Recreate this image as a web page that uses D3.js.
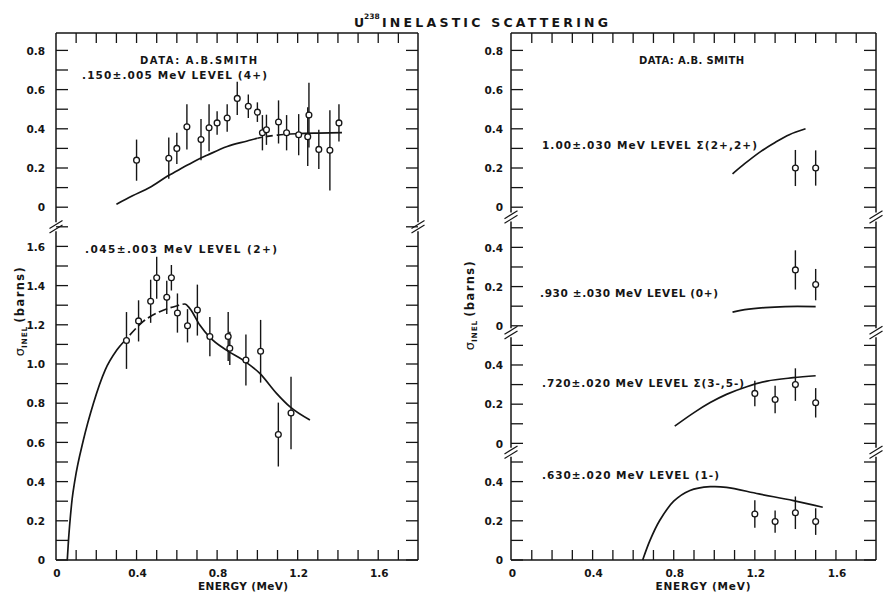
<!DOCTYPE html>
<html>
<head>
<meta charset="utf-8">
<script src="https://cdn.jsdelivr.net/npm/d3@7"></script>
<style>
  html, body { margin: 0; padding: 0; background: #fff; }
  svg { display: block; }
  text { font-family: "DejaVu Sans", "Liberation Sans", sans-serif; fill: #151515; font-weight: bold; }
</style>
</head>
<body>
<svg id="chart" width="883" height="593"></svg>
<script>
// ---------------- data ----------------
const energyTicks = [0, 0.4, 0.8, 1.2, 1.6];

// .150 MeV level (4+): measured points, errors, calculated curve
const e150 = [0.40, 0.56, 0.60, 0.65, 0.72, 0.76, 0.80, 0.85, 0.90, 0.955, 1.00, 1.025, 1.045, 1.105, 1.145, 1.205, 1.25, 1.256, 1.305, 1.36, 1.405];
const s150 = [0.24, 0.25, 0.30, 0.41, 0.345, 0.405, 0.43, 0.455, 0.555, 0.515, 0.485, 0.38, 0.395, 0.435, 0.38, 0.37, 0.36, 0.47, 0.295, 0.29, 0.43];
const d150 = [0.105, 0.105, 0.08, 0.115, 0.105, 0.12, 0.06, 0.07, 0.085, 0.06, 0.05, 0.09, 0.077, 0.11, 0.09, 0.105, 0.15, 0.165, 0.10, 0.205, 0.095];
const c150E = [0.30, 0.38, 0.465, 0.556, 0.63, 0.70, 0.75, 0.85, 0.95, 1.00, 1.10, 1.20, 1.30, 1.42];
const c150S = [0.015, 0.058, 0.10, 0.16, 0.202, 0.241, 0.265, 0.31, 0.338, 0.352, 0.368, 0.375, 0.378, 0.38];

// .045 MeV level (2+)
const e045 = [0.35, 0.41, 0.47, 0.50, 0.55, 0.573, 0.603, 0.653, 0.702, 0.764, 0.855, 0.863, 0.943, 1.016, 1.104, 1.167];
const s045 = [1.12, 1.22, 1.32, 1.44, 1.34, 1.44, 1.26, 1.195, 1.275, 1.14, 1.14, 1.08, 1.02, 1.065, 0.64, 0.75];
const d045 = [0.145, 0.105, 0.11, 0.107, 0.085, 0.065, 0.10, 0.085, 0.13, 0.10, 0.125, 0.085, 0.13, 0.16, 0.163, 0.185];
const c045E = [0.056, 0.062, 0.07, 0.08, 0.094, 0.136, 0.186, 0.244, 0.302, 0.352, 0.432, 0.515, 0.598, 0.64, 0.664, 0.714, 0.764, 0.846, 0.929, 1.012, 1.095, 1.161, 1.261];
const c045S = [0, 0.10, 0.204, 0.31, 0.408, 0.612, 0.80, 0.969, 1.071, 1.131, 1.216, 1.267, 1.296, 1.306, 1.284, 1.199, 1.136, 1.071, 1.02, 0.952, 0.85, 0.782, 0.714];

// 1.00 MeV level sum (2+,2+)
const e100 = [1.40, 1.50];
const s100 = [0.20, 0.20];
const d100 = [0.092, 0.09];
const c100E = [1.09, 1.15, 1.23, 1.30, 1.37, 1.45];
const c100S = [0.17, 0.222, 0.285, 0.33, 0.37, 0.40];

// .930 MeV level (0+)
const e930 = [1.40, 1.50];
const s930 = [0.285, 0.21];
const d930 = [0.10, 0.08];
const c930E = [1.09, 1.15, 1.25, 1.35, 1.50];
const c930S = [0.07, 0.082, 0.093, 0.098, 0.098];

// .720 MeV level sum (3-,5-)
const e720 = [1.20, 1.30, 1.40, 1.50];
const s720 = [0.255, 0.224, 0.30, 0.207];
const d720 = [0.065, 0.07, 0.083, 0.075];
const c720E = [0.805, 0.90, 0.98, 1.06, 1.16, 1.26, 1.39, 1.50];
const c720S = [0.088, 0.157, 0.208, 0.25, 0.289, 0.318, 0.335, 0.345];

// .630 MeV level (1-)
const e630 = [1.20, 1.30, 1.40, 1.50];
const s630 = [0.235, 0.196, 0.241, 0.196];
const d630 = [0.07, 0.057, 0.083, 0.068];
const c630E = [0.647, 0.683, 0.73, 0.80, 0.88, 0.98, 1.06, 1.22, 1.39, 1.535];
const c630S = [0, 0.10, 0.20, 0.30, 0.355, 0.374, 0.371, 0.337, 0.303, 0.269];

const levelLabels = {
  l150: ".150\u00b1.005 MeV LEVEL (4+)",
  l045: ".045\u00b1.003 MeV LEVEL (2+)",
  l100: "1.00\u00b1.030 MeV LEVEL \u03a3(2+,2+)",
  l930: ".930 \u00b1.030 MeV  LEVEL (0+)",
  l720: ".720\u00b1.020 MeV LEVEL \u03a3(3-,5-)",
  l630: ".630\u00b1.020 MeV LEVEL (1-)"
};
const dataCredit = ["DATA:  A.B.SMITH", "DATA: A.B. SMITH"];

// ---------------- layout ----------------
const svg = d3.select("#chart");
const INK = "#151515";
const TOP = 33, BOTTOM = 560, K = 196;   // px per barn on every segment

const zip = (E, S, D) => E.map((e, i) => ({ e, s: S[i], d: D ? D[i] : 0 }));

const panels = [
  {
    range: [56, 418.5], frame: [56, 418], tickLabelX: 45,
    creditX: 140, creditW: 117, credit: dataCredit[0],
    sections: [   // listed bottom to top
      { lo: 0, hi: 1.7, pts: zip(e045, s045, d045), curve: zip(c045E, c045S), kind: "mono",
        dash: [0.352, 0.64], dashArr: "9,3.5",
        label: levelLabels.l045, lx: 85, ly: 253, lw: 192 },
      { lo: -0.1, hi: 0.89, pts: zip(e150, s150, d150), curve: zip(c150E, c150S), kind: "mono",
        dash: [1.0, 1.16], dashArr: "7,4",
        label: levelLabels.l150, lx: 82, ly: 79, lw: 185 }
    ],
    energyLabelX: 243, energyLabelW: 90, sigmaCenter: [24, 311]
  },
  {
    range: [511.5, 876.5], frame: [511, 876], tickLabelX: 503,
    creditX: 639, creditW: 105, credit: dataCredit[1],
    sections: [
      { lo: 0, hi: 0.55, pts: zip(e630, s630, d630), curve: zip(c630E, c630S), kind: "smooth",
        label: levelLabels.l630, lx: 542, ly: 479, lw: 177 },
      { lo: -0.045, hi: 0.565, pts: zip(e720, s720, d720), curve: zip(c720E, c720S), kind: "smooth",
        label: levelLabels.l720, lx: 542, ly: 387, lw: 202 },
      { lo: -0.035, hi: 0.555, pts: zip(e930, s930, d930), curve: zip(c930E, c930S), kind: "smooth",
        label: levelLabels.l930, lx: 540, ly: 297, lw: 178 },
      { lo: -0.05, hi: 0.89, pts: zip(e100, s100, d100), curve: zip(c100E, c100S), kind: "smooth",
        label: levelLabels.l100, lx: 542, ly: 149, lw: 215 }
    ],
    energyLabelX: 703, energyLabelW: 95, sigmaCenter: [474, 305]
  }
];

// title
svg.append("text").attr("x", 354).attr("y", 26.5).attr("font-size", 12.5).text("U");
svg.append("text").attr("x", 364).attr("y", 19).attr("font-size", 7.5).text("238");
svg.append("text").attr("x", 382).attr("y", 26.5).attr("font-size", 12.5)
  .attr("textLength", 226).attr("lengthAdjust", "spacing").text("INELASTIC SCATTERING");

const fmt = v => (Math.abs(v) < 1e-9 ? "0" : d3.format(".1f")(v));

panels.forEach((p, pi) => {
  const g = svg.append("g");
  const x = d3.scaleLinear().domain([0, 1.8]).range(p.range);
  const [fl, fr] = p.frame;

  // stack the broken-axis segments bottom to top
  let base = BOTTOM;
  p.sections.forEach(sec => {
    const h = (sec.hi - sec.lo) * K;
    sec.y = d3.scaleLinear().domain([sec.lo, sec.hi]).range([base, base - h]);
    sec.bottom = base;
    base -= h;
  });
  const breaks = p.sections.slice(1).map(s => s.bottom);

  // frame: top / bottom
  [TOP, BOTTOM].forEach(yy => {
    g.append("line").attr("x1", fl).attr("x2", fr).attr("y1", yy).attr("y2", yy)
      .attr("stroke", INK).attr("stroke-width", 1.5);
  });

  // frame sides, interrupted at every break
  const stops = [TOP, ...breaks.slice().reverse(), BOTTOM];
  [fl, fr].forEach(xx => {
    for (let i = 0; i < stops.length - 1; i++) {
      const y1 = stops[i] + (i === 0 ? 0 : 4.5);
      const y2 = stops[i + 1] - (i === stops.length - 2 ? 0 : 4.5);
      g.append("line").attr("x1", xx).attr("x2", xx).attr("y1", y1).attr("y2", y2)
        .attr("stroke", INK).attr("stroke-width", 1.5);
    }
    breaks.forEach(by => {
      [-2.3, 2.3].forEach(dy => {
        g.append("line")
          .attr("x1", xx - 6.5).attr("y1", by + dy + 4)
          .attr("x2", xx + 6.5).attr("y2", by + dy - 4)
          .attr("stroke", INK).attr("stroke-width", 1.2);
      });
    });
  });

  // energy ticks on top and bottom edges
  d3.range(1, 18).map(i => i / 10).forEach(t => {
    g.append("line").attr("x1", x(t)).attr("x2", x(t)).attr("y1", TOP).attr("y2", TOP + 10)
      .attr("stroke", INK).attr("stroke-width", 1.3);
    g.append("line").attr("x1", x(t)).attr("x2", x(t)).attr("y1", BOTTOM).attr("y2", BOTTOM - 10)
      .attr("stroke", INK).attr("stroke-width", 1.3);
  });
  energyTicks.forEach(t => {
    g.append("text").attr("x", x(t) + 1).attr("y", 577).attr("text-anchor", "middle")
      .attr("font-size", 10.5).text(fmt(t));
  });
  g.append("text").attr("x", p.energyLabelX - p.energyLabelW / 2).attr("y", 590)
    .attr("font-size", 10.5).attr("textLength", p.energyLabelW).attr("lengthAdjust", "spacing")
    .text("ENERGY (MeV)");

  // ordinate label
  const sl = g.append("text")
    .attr("transform", `translate(${p.sigmaCenter[0]},${p.sigmaCenter[1]}) rotate(-90)`)
    .attr("text-anchor", "middle").attr("font-size", 11.5);
  sl.append("tspan").attr("font-weight", "normal").attr("font-size", 13).text("\u03c3");
  sl.append("tspan").attr("font-size", 7.5).attr("dy", 3).attr("letter-spacing", 0.8).text("INEL");
  sl.append("tspan").attr("dy", -3).attr("dx", 3).attr("letter-spacing", 1.4).text("(barns)");

  // per-segment ticks, labels, curves and data
  p.sections.forEach((sec, si) => {
    const y = sec.y;
    const vals = d3.range(0, Math.floor(sec.hi * 10 + 1e-6) + 1).map(i => i / 10);
    vals.forEach(v => {
      const yy = y(v);
      g.append("line").attr("x1", fl).attr("x2", fl + 12).attr("y1", yy).attr("y2", yy)
        .attr("stroke", INK).attr("stroke-width", 1.3);
      g.append("line").attr("x1", fr).attr("x2", fr - 12).attr("y1", yy).attr("y2", yy)
        .attr("stroke", INK).attr("stroke-width", 1.3);
      if (Math.round(v * 10) % 2 === 0) {
        g.append("text").attr("x", p.tickLabelX).attr("y", yy + 4.2).attr("text-anchor", "end")
          .attr("font-size", 10.5).text(fmt(v));
      }
    });

    // calculated curve, with a dashed stretch where noted
    const line = d3.line().x(d => x(d.e)).y(d => y(d.s))
      .curve(sec.kind === "mono" ? d3.curveMonotoneX : d3.curveCatmullRom.alpha(0.5));
    const cid = `clip-${pi}-${si}`;
    if (sec.dash) {
      const defs = g.append("defs");
      defs.append("clipPath").attr("id", cid + "a").append("rect")
        .attr("x", x(sec.dash[0])).attr("width", x(sec.dash[1]) - x(sec.dash[0]))
        .attr("y", 0).attr("height", 593);
      const out = defs.append("clipPath").attr("id", cid + "b");
      out.append("rect").attr("x", 0).attr("width", x(sec.dash[0])).attr("y", 0).attr("height", 593);
      out.append("rect").attr("x", x(sec.dash[1])).attr("width", 883 - x(sec.dash[1])).attr("y", 0).attr("height", 593);
      g.append("path").attr("d", line(sec.curve)).attr("fill", "none").attr("stroke", INK)
        .attr("stroke-width", 1.7).attr("clip-path", `url(#${cid}b)`);
      g.append("path").attr("d", line(sec.curve)).attr("fill", "none").attr("stroke", INK)
        .attr("stroke-width", 1.7).attr("stroke-dasharray", sec.dashArr).attr("clip-path", `url(#${cid}a)`);
    } else {
      g.append("path").attr("d", line(sec.curve)).attr("fill", "none").attr("stroke", INK)
        .attr("stroke-width", 1.7);
    }

    // error bars and open circles
    g.selectAll(null).data(sec.pts).join("line")
      .attr("x1", d => x(d.e)).attr("x2", d => x(d.e))
      .attr("y1", d => y(d.s - d.d)).attr("y2", d => y(d.s + d.d))
      .attr("stroke", INK).attr("stroke-width", 1.4);
    g.selectAll(null).data(sec.pts).join("circle")
      .attr("cx", d => x(d.e)).attr("cy", d => y(d.s)).attr("r", 2.9)
      .attr("fill", "#fff").attr("stroke", INK).attr("stroke-width", 1.3);

    g.append("text").attr("x", sec.lx).attr("y", sec.ly).attr("font-size", 10.5)
      .attr("textLength", sec.lw).attr("lengthAdjust", "spacing").text(sec.label);
  });

  g.append("text").attr("x", p.creditX).attr("y", 64).attr("font-size", 10)
    .attr("textLength", p.creditW).attr("lengthAdjust", "spacing").text(p.credit);
});
</script>
</body>
</html>
